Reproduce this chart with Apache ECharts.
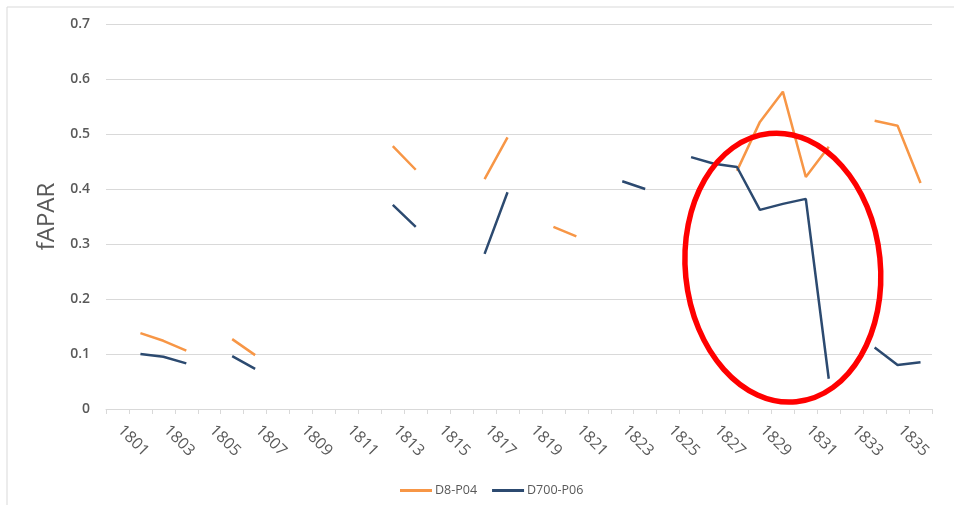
<!DOCTYPE html>
<html>
<head>
<meta charset="utf-8">
<script src="https://cdn.jsdelivr.net/npm/echarts@6/dist/echarts.min.js"></script>
<style>
html,body{margin:0;padding:0;background:#fff;}
#chart{width:954px;height:505px;}
</style>
</head>
<body>
<div id="chart"></div>
<script>
var years = [];
for (var y = 1801; y <= 1836; y++) years.push(String(y));

var d8P04 = [null, 0.138, 0.124, 0.106, null, 0.127, 0.098, null, null, null, null, null,
  0.478, 0.435, null, null, 0.418, 0.494, null, 0.331, 0.314, null, null, null, null, null, null,
  0.433, 0.522, 0.577, 0.422, 0.477, null, 0.524, 0.515, 0.411];

var d700P06 = [null, 0.100, 0.095, 0.083, null, 0.096, 0.073, null, null, null, null, null,
  0.371, 0.331, null, null, 0.282, 0.394, null, null, null, null, 0.414, 0.400, null,
  0.458, 0.446, 0.440, 0.362, 0.373, 0.382, 0.055, null, 0.112, 0.080, 0.085];

var seriesNames = ['D8-P04', 'D700-P06'];
var seriesColors = ['#F79646', '#2C4A70'];

var chart = echarts.init(document.getElementById('chart'));
var font = 'Open Sans';
chart.setOption({
  backgroundColor: '#fff',
  animation: false,
  grid: {left: 106, right: 22, top: 24, bottom: 96},
  legend: {
    data: seriesNames,
    top: 479,
    left: 395,
    icon: 'rect',
    itemWidth: 32,
    itemHeight: 3,
    itemGap: 15,
    textStyle: {color: '#595959', fontSize: 12.5, fontFamily: font, padding: [0, 0, 0, -2]}
  },
  xAxis: {
    type: 'category',
    data: years,
    boundaryGap: true,
    axisLine: {lineStyle: {color: '#d9d9d9', width: 1}},
    axisTick: {show: true, interval: 0, length: 5, lineStyle: {color: '#d9d9d9'}},
    axisLabel: {interval: 1, rotate: -45, color: '#595959', fontSize: 16, fontFamily: font,
                margin: 16, padding: [0, 0, 0, 4]}
  },
  yAxis: {
    type: 'value',
    min: 0, max: 0.7, interval: 0.1,
    name: 'fAPAR',
    nameLocation: 'middle',
    nameGap: 46,
    nameTextStyle: {color: '#595959', fontSize: 24, fontFamily: font},
    axisLine: {show: false},
    axisTick: {show: false},
    axisLabel: {color: '#595959', fontSize: 14, fontFamily: font, fontWeight: 600, margin: 16},
    splitLine: {lineStyle: {color: '#d9d9d9', width: 1}}
  },
  series: [
    {name: seriesNames[0], type: 'line', data: d8P04, showSymbol: false, symbol: 'none',
     connectNulls: false, itemStyle: {color: seriesColors[0]},
     lineStyle: {color: seriesColors[0], width: 2.5}},
    {name: seriesNames[1], type: 'line', data: d700P06, showSymbol: false, symbol: 'none',
     connectNulls: false, itemStyle: {color: seriesColors[1]},
     lineStyle: {color: seriesColors[1], width: 2.5}}
  ]
});

// Annotation ellipse and outer frame, positioned via the chart's own scales
var c = chart.convertToPixel({xAxisIndex: 0, yAxisIndex: 0}, ['1830', 0.257]);
var p1 = chart.convertToPixel({xAxisIndex: 0, yAxisIndex: 0}, ['1801', 0]);
var p2 = chart.convertToPixel({xAxisIndex: 0, yAxisIndex: 0}, ['1802', 0.1]);
var catW = p2[0] - p1[0];
var valH = p1[1] - p2[1];
chart.setOption({
  graphic: [
    {type: 'rect', z: 0, silent: true,
     shape: {x: 7, y: 7, width: 980, height: 520},
     style: {fill: 'none', stroke: '#d9d9d9', lineWidth: 1}},
    {type: 'ellipse', z: 100, silent: true,
     x: c[0], y: c[1], rotation: 0.1,
     shape: {cx: 0, cy: 0, rx: catW * 4.25, ry: valH * 2.45},
     style: {fill: 'none', stroke: '#FF0000', lineWidth: 5.5}}
  ]
});
</script>
</body>
</html>
